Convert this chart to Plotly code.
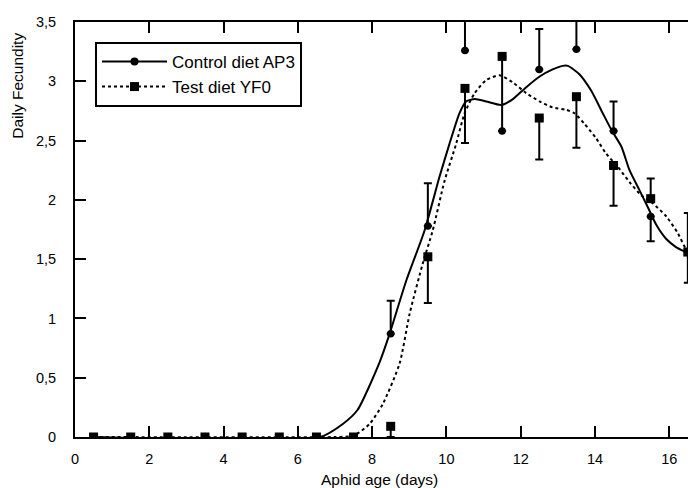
import plotly.graph_objects as go

# ---------------- data ----------------
ages = [0.5, 1.5, 2.5, 3.5, 4.5, 5.5, 6.5, 7.5, 8.5, 9.5, 10.5, 11.5, 12.5, 13.5, 14.5, 15.5, 16.5]

control_mean = [0, 0, 0, 0, 0, 0, 0, 0, 0.87, 1.78, 3.26, 2.58, 3.10, 3.27, 2.58, 1.86, 1.56]
control_err_plus = [0, 0, 0, 0, 0, 0, 0, 0, 0.28, 0.36, 0.40, 0.63, 0.34, 0.40, 0.25, 0, 0]
control_err_minus = [0, 0, 0, 0, 0, 0, 0, 0, 0, 0, 0, 0, 0, 0, 0, 0.21, 0.26]

test_mean = [0, 0, 0, 0, 0, 0, 0, 0, 0.09, 1.52, 2.94, 3.21, 2.69, 2.87, 2.29, 2.01, 1.56]
test_err_plus = [0, 0, 0, 0, 0, 0, 0, 0, 0, 0, 0, 0, 0, 0, 0, 0.17, 0.33]
test_err_minus = [0, 0, 0, 0, 0, 0, 0, 0, 0.09, 0.39, 0.46, 0, 0.35, 0.43, 0.34, 0, 0]

# smoothed fit curves
control_curve_x = [0.5, 6.6, 7.21, 7.61, 8.20, 8.47, 8.92, 9.41, 9.81, 10.08, 10.35, 10.53, 10.76,
                   11.07, 11.48, 11.79, 12.15, 12.51, 12.86, 13.13, 13.27, 13.58, 13.90, 14.21,
                   14.46, 14.71, 14.93, 15.20, 15.42, 15.65, 15.92, 16.19, 16.44, 16.5]
control_curve_y = [0, 0, 0.11, 0.23, 0.63, 0.87, 1.32, 1.74, 2.19, 2.47, 2.73, 2.83, 2.85,
                   2.83, 2.80, 2.85, 2.95, 3.04, 3.10, 3.13, 3.13, 3.06, 2.92, 2.73,
                   2.58, 2.45, 2.25, 2.08, 1.94, 1.79, 1.67, 1.60, 1.56, 1.55]

test_curve_x = [0.5, 7.0, 7.5, 7.93, 8.29, 8.74, 9.01, 9.36, 9.63, 9.95, 10.26, 10.49, 10.76, 11.07,
                11.43, 11.79, 12.15, 12.51, 12.86, 13.22, 13.45, 13.72, 14.03, 14.30, 14.61,
                14.93, 15.24, 15.56, 15.92, 16.23, 16.46, 16.72]
test_curve_y = [0, 0, 0.01, 0.11, 0.28, 0.62, 1.04, 1.46, 1.74, 2.16, 2.47, 2.73, 2.90, 3.01,
                3.05, 2.99, 2.90, 2.83, 2.78, 2.76, 2.73, 2.64, 2.52, 2.39, 2.28,
                2.15, 2.04, 1.97, 1.86, 1.72, 1.58, 1.50]

series_names = ["Control diet AP3", "Test diet YF0"]

x_tickvals = [0, 2, 4, 6, 8, 10, 12, 14, 16]
x_ticktext = ["0", "2", "4", "6", "8", "10", "12", "14", "16"]
y_tickvals = [0, 0.5, 1, 1.5, 2, 2.5, 3, 3.5]
y_ticktext = ["0", "0,5", "1", "1,5", "2", "2,5", "3", "3,5"]

x_title = "Aphid age (days)"
y_title = "Daily Fecundity"

# ---------------- figure ----------------
FONT = "Liberation Sans, Arial, Helvetica, sans-serif"
fig = go.Figure()

# legend-only entries (line + marker glyph)
fig.add_trace(go.Scatter(x=[None], y=[None], mode="lines+markers", name=series_names[0],
                         line=dict(color="black", width=2),
                         marker=dict(symbol="circle", size=8, color="black")))
fig.add_trace(go.Scatter(x=[None], y=[None], mode="lines+markers", name=series_names[1],
                         line=dict(color="black", width=2, dash="3px,3px"),
                         marker=dict(symbol="square", size=9, color="black")))

# fitted curves
fig.add_trace(go.Scatter(x=control_curve_x, y=control_curve_y, mode="lines", showlegend=False,
                         line=dict(color="black", width=2, shape="spline", smoothing=0.6),
                         hoverinfo="skip"))
fig.add_trace(go.Scatter(x=test_curve_x, y=test_curve_y, mode="lines", showlegend=False,
                         line=dict(color="black", width=2, dash="3px,3px", shape="spline", smoothing=0.6),
                         hoverinfo="skip"))

# observed means with error bars
fig.add_trace(go.Scatter(x=ages, y=control_mean, mode="markers", showlegend=False,
                         marker=dict(symbol="circle", size=7.5, color="black"),
                         error_y=dict(type="data", array=control_err_plus, arrayminus=control_err_minus,
                                      symmetric=False, color="black", thickness=2, width=4)))
fig.add_trace(go.Scatter(x=ages, y=test_mean, mode="markers", showlegend=False,
                         marker=dict(symbol="square", size=9, color="black"),
                         error_y=dict(type="data", array=test_err_plus, arrayminus=test_err_minus,
                                      symmetric=False, color="black", thickness=2, width=4)))

# invisible trace to carry the right-hand tick marks
fig.add_trace(go.Scatter(x=[None], y=[None], yaxis="y2", showlegend=False, hoverinfo="skip"))

axis_common = dict(showgrid=False, zeroline=False, showline=True, linecolor="black", linewidth=2,
                   ticks="inside", ticklen=11, tickwidth=2, tickcolor="black",
                   tickfont=dict(family=FONT, size=14.5, color="black"))

fig.update_layout(
    width=688, height=480,
    margin=dict(l=67, r=0, t=14, b=51.2, pad=0),
    paper_bgcolor="white", plot_bgcolor="white",
    font=dict(family=FONT, size=14, color="black"),
    xaxis=dict(range=[0, 16.72], tickvals=x_tickvals, ticktext=x_ticktext, mirror="ticks",
               ticklabelstandoff=8, **axis_common),
    yaxis=dict(range=[0, 3.5], tickvals=y_tickvals, ticktext=y_ticktext, mirror=False,
               ticklabelstandoff=14, **axis_common),
    yaxis2=dict(range=[0, 3.5], overlaying="y", side="right", showgrid=False, zeroline=False,
                showline=False, ticks="inside", ticklen=2, tickwidth=2, tickcolor="black",
                tickvals=y_tickvals[1:-1], showticklabels=False),
    showlegend=True,
    legend=dict(x=0.0322, y=0.952, xanchor="left", yanchor="top",
                bordercolor="black", borderwidth=2, bgcolor="white",
                font=dict(family=FONT, size=17, color="black"), itemwidth=65),
    annotations=[
        dict(text=x_title, xref="paper", yref="paper", x=0.490, y=-0.102,
             xanchor="center", yanchor="middle", showarrow=False,
             font=dict(family=FONT, size=15.5, color="black")),
        dict(text=y_title, xref="paper", yref="paper", x=-0.092, y=0.846,
             xanchor="center", yanchor="middle", showarrow=False, textangle=-90,
             font=dict(family=FONT, size=15.5, color="black")),
    ],
)

fig.write_html("out.html")
